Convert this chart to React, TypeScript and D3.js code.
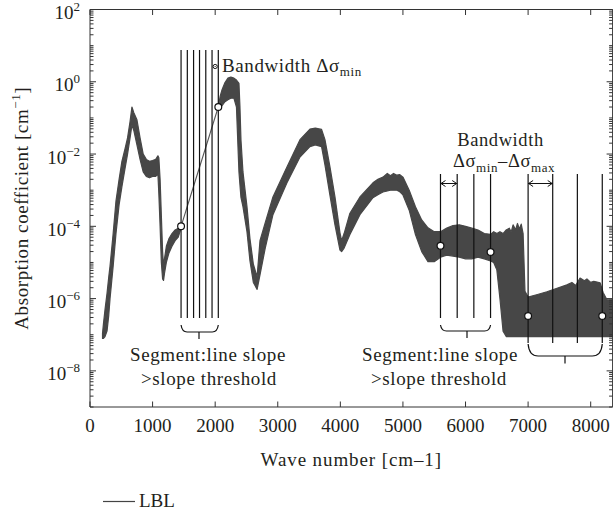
import React from 'react';
import * as d3 from 'd3';

// ---------- data ----------
const xTickValues = [0, 1000, 2000, 3000, 4000, 5000, 6000, 7000, 8000];
const yLabelExponents = [2, 0, -2, -4, -6, -8];

// LBL spectrum envelope, part A (before the linear segment)
const bandAWn = [200, 215, 240, 272, 300, 320, 370, 415, 465, 510, 560, 600, 640, 670, 700, 750, 800, 850, 900, 950, 1000, 1050, 1085, 1100, 1120, 1140, 1160, 1175, 1190, 1220, 1260, 1310, 1360, 1410, 1455];
const bandAUpper = [1.1e-7, 2.0e-7, 5.0e-7, 1.4e-6, 4.0e-6, 7.9e-6, 6.3e-5, 5.0e-4, 2.0e-3, 6.3e-3, 1.4e-2, 2.8e-2, 7.9e-2, 0.2, 0.14, 8.9e-2, 2.8e-2, 1.0e-2, 7.1e-3, 6.3e-3, 6.6e-3, 7.1e-3, 8.9e-3, 7.9e-3, 2.0e-3, 2.0e-4, 2.0e-5, 7.9e-6, 1.26e-5, 2.8e-5, 4.5e-5, 6.3e-5, 7.9e-5, 8.9e-5, 1.0e-4];
const bandALower = [7.9e-8, 7.9e-8, 8.9e-8, 1.26e-7, 3.5e-7, 1.0e-6, 7.9e-6, 6.3e-5, 4.0e-4, 1.26e-3, 4.0e-3, 1.0e-2, 2.8e-2, 6.3e-2, 4.5e-2, 1.8e-2, 7.1e-3, 3.2e-3, 2.4e-3, 2.2e-3, 2.4e-3, 2.4e-3, 2.8e-3, 7.9e-4, 1.0e-4, 1.0e-5, 3.5e-6, 3.2e-6, 5.0e-6, 1.0e-5, 1.8e-5, 2.8e-5, 4.0e-5, 5.0e-5, 8.9e-5];

// LBL spectrum envelope, part B (after the linear segment)
const bandBWn = [2050, 2080, 2110, 2157, 2204, 2250, 2300, 2340, 2380, 2396, 2412, 2444, 2508, 2556, 2610, 2670, 2716, 2800, 2923, 3147, 3355, 3514, 3600, 3700, 3754, 3834, 3914, 3994, 4020, 4060, 4153, 4313, 4521, 4600, 4681, 4750, 4800, 4850, 4904, 4950, 5000, 5100, 5200, 5300, 5400, 5500, 5600, 5700, 5800, 5900, 6000, 6100, 6200, 6300, 6400, 6450, 6500, 6550, 6600, 6650, 6700, 6730, 6760, 6800, 6830, 6860, 6890, 6920, 6950, 7000, 7150, 7300, 7450, 7620, 7700, 7760, 7830, 7900, 7940, 8000, 8050, 8150, 8200, 8260, 8350];
const bandBUpper = [0.2, 0.4, 0.6, 0.95, 1.26, 1.35, 1.26, 1.12, 0.91, 0.2, 2.5e-2, 3.2e-3, 3.5e-4, 4.5e-5, 8.9e-6, 4.0e-6, 4.0e-5, 1.26e-4, 6.5e-4, 4.4e-3, 2.5e-2, 4.9e-2, 5.2e-2, 4.8e-2, 2.5e-2, 4.4e-3, 6.5e-4, 6.6e-5, 4.0e-5, 6.3e-5, 2.3e-4, 6.5e-4, 1.6e-3, 2.0e-3, 2.3e-3, 2.9e-3, 2.5e-3, 2.9e-3, 2.6e-3, 2.7e-3, 2.3e-3, 1.0e-3, 3.5e-4, 1.5e-4, 9.1e-5, 7.1e-5, 7.1e-5, 8.9e-5, 1.05e-4, 1.1e-4, 1.0e-4, 8.9e-5, 7.9e-5, 6.3e-5, 6.0e-5, 7.1e-5, 6.3e-5, 7.1e-5, 6.3e-5, 7.9e-5, 8.9e-5, 7.0e-5, 1.1e-4, 8.0e-5, 1.2e-4, 8.5e-5, 1.15e-4, 6.3e-5, 1.6e-6, 1.1e-6, 1.3e-6, 1.55e-6, 1.9e-6, 2.4e-6, 2.8e-6, 2.3e-6, 3.7e-6, 3.1e-6, 3.5e-6, 2.8e-6, 3.0e-6, 2.75e-6, 1.45e-6, 9.3e-7, 9.3e-7];
const bandBLower = [0.18, 0.18, 0.22, 0.28, 0.32, 0.35, 0.35, 0.2, 3.2e-3, 1.4e-3, 6.3e-4, 3.5e-4, 7.1e-5, 1.1e-5, 2.8e-6, 1.8e-6, 4.5e-6, 2.5e-5, 2.1e-4, 1.6e-3, 8.3e-3, 1.6e-2, 1.8e-2, 1.6e-2, 5.0e-3, 7.2e-4, 1.1e-4, 2.2e-5, 2.0e-5, 2.5e-5, 5.9e-5, 2.1e-4, 6.2e-4, 7.5e-4, 8.9e-4, 9.5e-4, 1.0e-3, 1.0e-3, 1.0e-3, 9.0e-4, 7.4e-4, 2.8e-4, 5.9e-5, 2.0e-5, 1.05e-5, 1.05e-5, 1.4e-5, 1.6e-5, 1.5e-5, 1.4e-5, 1.26e-5, 1.26e-5, 1.4e-5, 1.26e-5, 1.1e-5, 1.0e-5, 6.3e-6, 1.0e-6, 1.26e-7, 8.9e-8, 8.9e-8, 8.9e-8, 8.9e-8, 8.9e-8, 8.9e-8, 8.9e-8, 8.9e-8, 8.9e-8, 8.9e-8, 8.9e-8, 8.9e-8, 8.9e-8, 8.9e-8, 8.9e-8, 8.9e-8, 8.9e-8, 8.9e-8, 8.9e-8, 8.9e-8, 8.9e-8, 8.9e-8, 8.9e-8, 8.9e-8, 8.9e-8, 8.9e-8];

// straight-line segment replacing the spectrum
const segmentWn = [1455, 2050];
const segmentVal = [1.0e-4, 0.2];

// segment end points (circles)
const markerWn = [1455, 2050, 5600, 6400, 7000, 8185];
const markerVal = [1.0e-4, 0.2, 2.9e-5, 1.95e-5, 3.3e-7, 3.3e-7];

// vertical grid lines of the segments
const group1Lines = [1455, 1555, 1655, 1750, 1850, 1950, 2050];
const group2aLines = [5600, 5867, 6133, 6400];
const group2bLines = [7000, 7393, 7787, 8185];
const group1Range = [2.9e-7, 7.6];
const group2aRange = [2.9e-7, 2.8e-3];
const group2bRange = [5.9e-8, 2.8e-3];

const FONT = "'Liberation Serif', 'Times New Roman', serif";
const INK = '#231f20';
const BAND = '#474747';

export default function App() {
  const W = 613;
  const H = 518;
  const x = d3.scaleLinear().domain([0, 8350]).range([90, 612.6]);
  const y = d3.scaleLog().domain([1e-9, 1e2]).range([407, 9.5]);
  const [x0, x1] = x.range();
  const [yb, yt] = y.range();

  type P = { w: number; hi: number; lo: number };
  const area = d3
    .area<P>()
    .x((d) => x(d.w))
    .y0((d) => y(d.lo))
    .y1((d) => y(d.hi));
  const bandA: P[] = bandAWn.map((w, i) => ({ w, hi: bandAUpper[i], lo: bandALower[i] }));
  const bandB: P[] = bandBWn.map((w, i) => ({ w, hi: bandBUpper[i], lo: bandBLower[i] }));

  const line = d3
    .line<number>()
    .x((w) => x(w))
    .y((_, i) => y(segmentVal[i]));

  // log ticks
  const minor: number[] = [];
  for (let e = -9; e < 2; e++) {
    for (let k = 1; k <= 9; k++) {
      const v = k * Math.pow(10, e);
      if (k === 1 && e % 2 === 0) continue;
      minor.push(v);
    }
  }
  const majors = d3.range(-8, 3, 2).map((e) => Math.pow(10, e));

  const bracket = (xa: number, xb: number, top: number, mid: number, r: number, xc: number, tick: number) =>
    `M${xa},${top} Q${xa + 1},${mid} ${xa + r},${mid} L${xb - r},${mid} Q${xb - 1},${mid} ${xb},${top} M${xc},${mid} L${xc},${mid + tick}`;

  const arrow = (xa: number, xb: number, yy: number) =>
    `M${xa},${yy} L${xb},${yy} M${xa + 5},${yy - 3} L${xa + 0.5},${yy} L${xa + 5},${yy + 3} M${xb - 5},${yy - 3} L${xb - 0.5},${yy} L${xb - 5},${yy + 3}`;

  const vlines = (ws: number[], range: number[], key: string) =>
    ws.map((w) => (
      <line key={key + w} x1={x(w)} x2={x(w)} y1={y(range[0])} y2={y(range[1])} stroke="#111" strokeWidth={1.2} />
    ));

  return (
    <svg
      width={W}
      height={H}
      style={{ position: 'absolute', left: 0, top: 0, background: '#fff' }}
      fontFamily={FONT}
    >
      <rect x={0} y={0} width={W} height={H} fill="#fff" />
      {/* spectrum */}
      <path d={area(bandA) || ''} fill={BAND} stroke={BAND} strokeWidth={1.2} strokeLinejoin="round" />
      <path d={area(bandB) || ''} fill={BAND} stroke={BAND} strokeWidth={1.2} strokeLinejoin="round" />
      <path d={line(segmentWn) || ''} fill="none" stroke="#555" strokeWidth={1.1} />

      {/* vertical lines */}
      {vlines(group1Lines, group1Range, 'g1')}
      {vlines(group2aLines, group2aRange, 'g2a')}
      {vlines(group2bLines, group2bRange, 'g2b')}

      {/* markers */}
      {markerWn.map((w, i) => (
        <circle key={'m' + i} cx={x(w)} cy={y(markerVal[i])} r={3.4} fill="#fff" stroke="#111" strokeWidth={1.2} />
      ))}

      {/* brackets */}
      <path d={bracket(x(group1Lines[0]), x(group1Lines[6]), 325, 332, 6, 199, 7)} fill="none" stroke="#111" strokeWidth={1.2} />
      <path d={bracket(x(group2aLines[0]), x(group2aLines[3]), 325, 331, 6, 467, 7)} fill="none" stroke="#111" strokeWidth={1.2} />
      <path d={bracket(x(group2bLines[0]), x(group2bLines[3]), 344, 356, 10, 565, 7.5)} fill="none" stroke="#111" strokeWidth={1.2} />

      {/* arrows */}
      <path d={arrow(x(group2aLines[0]), x(group2aLines[1]), 183.5)} fill="none" stroke="#111" strokeWidth={1} />
      <path d={arrow(x(group2bLines[0]), x(group2bLines[1]), 183.5)} fill="none" stroke="#111" strokeWidth={1} />

      {/* small bandwidth marker */}
      <circle cx={(x(group1Lines[5]) + x(group1Lines[6])) / 2} cy={66.5} r={2.1} fill="#fff" stroke="#111" strokeWidth={1} />
      <circle cx={(x(group1Lines[5]) + x(group1Lines[6])) / 2} cy={66.5} r={0.6} fill="#111" />

      {/* annotation texts */}
      <g fill={INK} fontSize={19} letterSpacing={0.6}>
        <text x={222} y={71.5}>
          Bandwidth Δσ<tspan fontSize={13} dy={4}>min</tspan>
        </text>
        <text x={500.5} y={145.5} textAnchor="middle" fontSize={18.5}>Bandwidth</text>
        <text x={453} y={166.5} fontSize={18.5}>
          Δσ<tspan fontSize={13} dy={5}>min</tspan>
          <tspan dy={-5}>–Δσ</tspan>
          <tspan fontSize={13} dy={5}>max</tspan>
        </text>
        <text x={208} y={360.5} textAnchor="middle">Segment:line slope</text>
        <text x={209} y={385} textAnchor="middle">&gt;slope threshold</text>
        <text x={440} y={361} textAnchor="middle">Segment:line slope</text>
        <text x={439} y={385} textAnchor="middle">&gt;slope threshold</text>
      </g>

      {/* axes frame */}
      <g stroke="#333" strokeWidth={1} fill="none">
        <line x1={x0} x2={x1} y1={yb} y2={yb} />
        <line x1={x0} x2={x1} y1={yt} y2={yt} />
        <line x1={x0} x2={x0} y1={yt} y2={yb} />
        <line x1={x1} x2={x1} y1={yt} y2={yb} />
        {xTickValues.map((t) => (
          <g key={'xt' + t}>
            <line x1={x(t)} x2={x(t)} y1={yb} y2={yb - 5.5} />
            <line x1={x(t)} x2={x(t)} y1={yt} y2={yt + 5.5} />
          </g>
        ))}
        {majors.map((v) => (
          <g key={'ym' + v}>
            <line x1={x0} x2={x0 + 6} y1={y(v)} y2={y(v)} />
            <line x1={x1} x2={x1 - 6} y1={y(v)} y2={y(v)} />
          </g>
        ))}
        {minor.map((v) => (
          <g key={'yn' + v}>
            <line x1={x0} x2={x0 + 3.5} y1={y(v)} y2={y(v)} />
            <line x1={x1} x2={x1 - 3.5} y1={y(v)} y2={y(v)} />
          </g>
        ))}
      </g>

      {/* tick labels */}
      <g fill={INK} fontSize={19}>
        {xTickValues.map((t) => (
          <text key={'xl' + t} x={x(t)} y={432} textAnchor="middle">
            {t}
          </text>
        ))}
        {yLabelExponents.map((e) => (
          <text key={'yl' + e} x={80} y={y(Math.pow(10, e)) + 9.5} textAnchor="end">
            10<tspan fontSize={13} dy={-8}>{e < 0 ? '−' + Math.abs(e) : String(e)}</tspan>
          </text>
        ))}
      </g>

      {/* axis titles */}
      <g fill={INK} fontSize={19} letterSpacing={0.6}>
        <text x={(x0 + x1) / 2} y={465.5} textAnchor="middle" letterSpacing={0.9}>
          Wave number [cm–1]
        </text>
        <text transform={`translate(28,${(yt + yb) / 2}) rotate(-90)`} textAnchor="middle">
          Absorption coefficient [cm<tspan fontSize={13} dy={-8}>−1</tspan>
          <tspan dy={8}>]</tspan>
        </text>
      </g>

      {/* legend */}
      <line x1={103} x2={135} y1={501.5} y2={501.5} stroke="#444" strokeWidth={1.2} />
      <text x={139} y={507} fill={INK} fontSize={19} fontFamily={FONT}>
        LBL
      </text>
    </svg>
  );
}
